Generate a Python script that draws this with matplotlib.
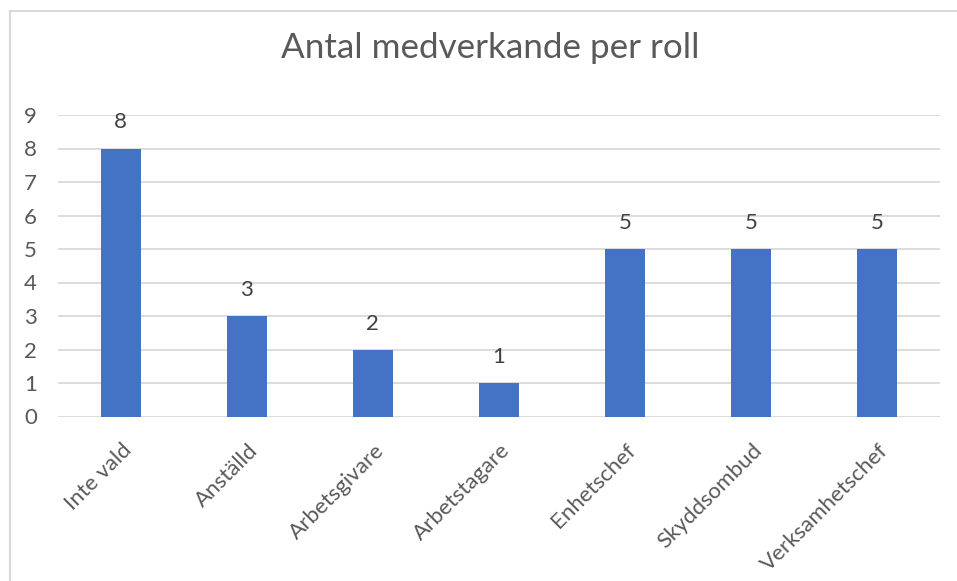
import matplotlib
matplotlib.use("Agg")
import matplotlib.pyplot as plt
from matplotlib.lines import Line2D
import matplotlib.transforms as mtransforms

categories = ["Inte vald", "Anställd", "Arbetsgivare", "Arbetstagare", "Enhetschef", "Skyddsombud", "Verksamhetschef"]
values = [8, 3, 2, 1, 5, 5, 5]
yticks = list(range(0, 10))
title = "Antal medverkande per roll"

W, H = 957, 581
fig = plt.figure(figsize=(W / 100, H / 100), dpi=100)
plt.rcParams['font.family'] = ['Lato', 'DejaVu Sans']
txt = "#595959"

# chart border
fig.add_artist(Line2D([10 / W, 10 / W], [0, 1 - 11 / H], transform=fig.transFigure, color="#D9D9D9", lw=1.5))
fig.add_artist(Line2D([10 / W, 1], [1 - 11 / H, 1 - 11 / H], transform=fig.transFigure, color="#D9D9D9", lw=1.5))

left, right = 57.5 / W, 940 / W
bottom, top = 1 - 416.5 / H, 1 - 115 / H
ax = fig.add_axes([left, bottom, right - left, top - bottom])

x = list(range(len(categories)))
bars = ax.bar(x, values, width=40 / 126, color="#4472C4", zorder=3)
ax.set_xlim(-0.5, len(categories) - 0.5)
ax.set_ylim(0, 9)
ax.set_yticks(yticks)
ax.set_yticklabels([str(t) for t in yticks], fontsize=16, color=txt)
ax.yaxis.grid(True, color="#D9D9D9", lw=1.3, zorder=0)
for s in ax.spines.values():
    s.set_visible(False)
ax.tick_params(axis="x", length=0)
for lab in ax.get_yticklabels():
    lab.set_horizontalalignment("center")
ax.tick_params(axis="y", length=0, pad=19.5)

ax.set_xticks(x)
ax.set_xticklabels(categories, rotation=45, ha="right", va="center", rotation_mode="anchor",
                   fontsize=16, color=txt)
offset = mtransforms.ScaledTranslation(8 / 100, -26 / 100, fig.dpi_scale_trans)
for lab in ax.get_xticklabels():
    lab.set_transform(lab.get_transform() + offset)

for xi, v in zip(x, values):
    ax.annotate(str(v), (xi, v), xytext=(0, 26), textcoords="offset pixels",
                ha="center", va="center", fontsize=16, color="#404040")

fig.text(490 / W, 1 - 48.5 / H, title, ha="center", va="center", fontsize=25.2, color=txt)

fig.savefig("out.png", dpi=100, facecolor="white")
